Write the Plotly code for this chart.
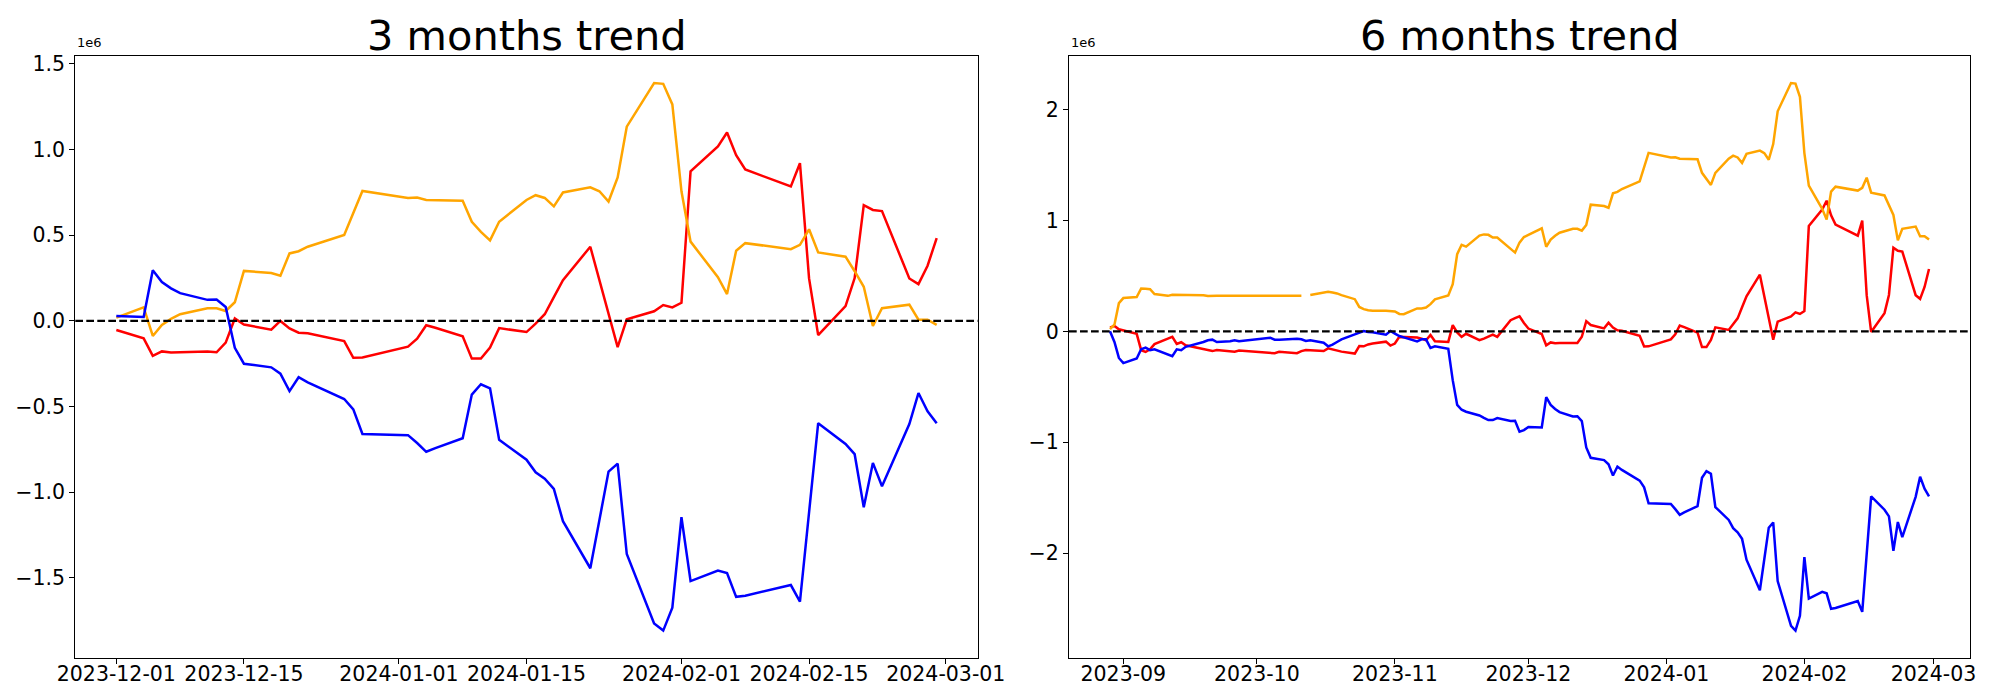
import plotly.graph_objects as go

# ---------------- data ----------------
# trading days (day-of-month) per month
aug_2023 = [29, 30, 31]
sep_2023 = [1, 4, 5, 6, 7, 8, 11, 12, 13, 14, 15, 18, 19, 20, 21, 22, 25, 26, 27]
oct_2023 = [4, 5, 6, 10, 11, 12, 13, 16, 17, 18, 19, 20, 23, 24, 25, 26, 27, 30, 31]
nov_2023 = [1, 2, 3, 6, 7, 8, 9, 10, 13, 14, 15, 16, 17, 20, 21, 22, 23, 24, 27, 28, 29, 30]
dec_2023 = [1, 4, 5, 6, 7, 8, 11, 12, 13, 14, 15, 18, 19, 20, 21, 22, 26, 27, 28]
jan_2024 = [2, 3, 4, 5, 8, 9, 10, 11, 12, 15, 16, 17, 18, 19, 22, 23, 24, 25, 26, 29, 30, 31]
feb_2024 = [1, 2, 5, 6, 7, 8, 13, 14, 15, 16, 19, 20, 21, 22, 23, 26, 27, 28, 29]


def days(ym, lst):
    return [f"{ym}-{d:02d}" for d in lst]


dates_3m = days("2023-12", dec_2023) + days("2024-01", jan_2024) + days("2024-02", feb_2024)
dates_6m = (days("2023-08", aug_2023) + days("2023-09", sep_2023) + days("2023-10", oct_2023)
            + days("2023-11", nov_2023) + dates_3m)

# values in units of 1e6
red_3m = [-0.053, -0.102, -0.204, -0.178, -0.185, -0.183, -0.178, -0.183, -0.127, 0.014,
          -0.021, -0.051, 0.000, -0.044, -0.069, -0.072, -0.118, -0.215, -0.213,
          -0.150, -0.104, -0.025, -0.040, -0.090, -0.220, -0.220, -0.155, -0.042, -0.065,
          -0.016, 0.039, 0.139, 0.238, 0.433, 0.240, 0.046, -0.153, 0.009, 0.056, 0.093, 0.079,
          0.106, 0.873, 1.019, 1.100, 0.968, 0.884, 0.785, 0.921, 0.248, -0.083,
          0.086, 0.250, 0.676, 0.648, 0.641, 0.248, 0.215, 0.322, 0.484]
orange_3m = [0.019, 0.079, -0.088, -0.023, 0.012, 0.039, 0.074, 0.074, 0.058, 0.109,
             0.292, 0.280, 0.264, 0.394, 0.407, 0.433, 0.502, 0.630, 0.759,
             0.718, 0.720, 0.706, 0.704, 0.701, 0.579, 0.520, 0.470, 0.579, 0.706,
             0.734, 0.718, 0.669, 0.750, 0.780, 0.757, 0.697, 0.838, 1.134, 1.389, 1.384, 1.264,
             0.757, 0.463, 0.255, 0.157, 0.410, 0.454, 0.419, 0.444, 0.535, 0.400,
             0.375, 0.290, 0.199, -0.030, 0.074, 0.095, 0.007, 0.007, -0.023]
blue_3m = [0.028, 0.023, 0.296, 0.227, 0.190, 0.162, 0.123, 0.125, 0.081, -0.157,
           -0.250, -0.271, -0.308, -0.410, -0.329, -0.359, -0.456, -0.516, -0.660,
           -0.667, -0.713, -0.764, -0.743, -0.685, -0.430, -0.370, -0.394, -0.694, -0.810,
           -0.884, -0.921, -0.981, -1.169, -1.444, -1.162, -0.880, -0.833, -1.361, -1.766, -1.808, -1.674,
           -1.146, -1.519, -1.458, -1.472, -1.611, -1.604, -1.542, -1.639, -1.120, -0.597,
           -0.718, -0.778, -1.088, -0.829, -0.965, -0.602, -0.421, -0.528, -0.597]

red_6m = [0.034, 0.049, 0.019,
          0.010, -0.023, -0.170, -0.186, -0.162, -0.115, -0.065, -0.050, -0.113, -0.098,
          -0.125, -0.150, -0.163, -0.170, -0.178, -0.168, -0.176, -0.184, -0.173,
          -0.198, -0.198, -0.185, -0.197, -0.178, -0.168, -0.170, -0.177, -0.153, -0.165,
          -0.177, -0.183, -0.200, -0.132, -0.135, -0.118, -0.110, -0.093, -0.128,
          -0.110, -0.050, -0.050, -0.055, -0.066, -0.080, -0.033, -0.090, -0.095, 0.056,
          -0.010, -0.050, -0.022, -0.080, -0.065, -0.050, -0.030, -0.050, 0.100, 0.120, 0.136, 0.075,
          0.025, -0.024, -0.126, -0.100, -0.107, -0.105, -0.100, -0.105, -0.049, 0.092,
          0.057, 0.027, 0.078, 0.034, 0.009, 0.006, -0.040, -0.137, -0.135,
          -0.072, -0.026, 0.053, 0.038, -0.012, -0.142, -0.142, -0.077, 0.036, 0.013,
          0.062, 0.117, 0.217, 0.316, 0.511, 0.318, 0.124, -0.075, 0.087, 0.134, 0.171, 0.157,
          0.184, 0.951, 1.097, 1.178, 1.046, 0.962, 0.863, 0.999, 0.326, -0.005,
          0.164, 0.328, 0.754, 0.726, 0.719, 0.326, 0.293, 0.400, 0.562]
orange_6m = [0.020, 0.060, 0.254,
             0.300, 0.310, 0.387, 0.385, 0.380, 0.336, 0.320, 0.330, 0.330, 0.328,
             0.326, 0.326, 0.326, 0.318, 0.320, 0.320, 0.321, 0.323, 0.320,
             0.322, 0.322, 0.322, 0.320, 0.320, None, 0.327, 0.350, 0.357, 0.350,
             0.342, 0.327, 0.290, 0.220, 0.200, 0.190, 0.185, 0.185, 0.185,
             0.180, 0.157, 0.155, 0.207, 0.207, 0.215, 0.245, 0.288, 0.323, 0.426,
             0.696, 0.780, 0.764, 0.863, 0.874, 0.870, 0.845, 0.845, 0.750, 0.710, 0.800, 0.850,
             0.869, 0.929, 0.762, 0.827, 0.862, 0.889, 0.924, 0.924, 0.908, 0.959,
             1.142, 1.130, 1.114, 1.244, 1.257, 1.283, 1.352, 1.480, 1.609,
             1.568, 1.570, 1.556, 1.554, 1.551, 1.429, 1.370, 1.320, 1.429, 1.556,
             1.584, 1.568, 1.519, 1.600, 1.630, 1.607, 1.547, 1.688, 1.984, 2.239, 2.234, 2.114,
             1.607, 1.313, 1.105, 1.007, 1.260, 1.304, 1.269, 1.294, 1.385, 1.250,
             1.225, 1.140, 1.049, 0.820, 0.924, 0.945, 0.857, 0.857, 0.827]
blue_6m = [0.000, -0.096, -0.240,
           -0.286, -0.245, -0.162, -0.147, -0.170, -0.162, -0.210, -0.224, -0.162, -0.170,
           -0.140, -0.110, -0.096, -0.080, -0.075, -0.096, -0.090, -0.080, -0.090,
           -0.057, -0.075, -0.075, -0.066, -0.072, -0.087, -0.081, -0.102, -0.135, -0.120,
           -0.096, -0.072, -0.027, -0.015, 0.003, -0.006, -0.009, -0.030, 0.003,
           -0.020, -0.042, -0.054, -0.090, -0.072, -0.072, -0.150, -0.135, -0.157, -0.440,
           -0.663, -0.707, -0.725, -0.758, -0.780, -0.800, -0.800, -0.782, -0.809, -0.806, -0.905, -0.890,
           -0.862, -0.867, -0.594, -0.663, -0.700, -0.728, -0.767, -0.765, -0.809, -1.047,
           -1.140, -1.161, -1.198, -1.300, -1.219, -1.249, -1.346, -1.406, -1.550,
           -1.557, -1.603, -1.654, -1.633, -1.575, -1.320, -1.260, -1.284, -1.584, -1.700,
           -1.774, -1.811, -1.871, -2.059, -2.334, -2.052, -1.770, -1.723, -2.251, -2.656, -2.698, -2.564,
           -2.036, -2.409, -2.348, -2.362, -2.501, -2.494, -2.432, -2.529, -2.010, -1.487,
           -1.608, -1.668, -1.978, -1.719, -1.855, -1.492, -1.311, -1.418, -1.487]

xtick_vals_3m = ["2023-12-01", "2023-12-15", "2024-01-01", "2024-01-15", "2024-02-01", "2024-02-15", "2024-03-01"]
xtick_text_3m = ["2023-12-01", "2023-12-15", "2024-01-01", "2024-01-15", "2024-02-01", "2024-02-15", "2024-03-01"]
xtick_vals_6m = ["2023-09-01", "2023-10-01", "2023-11-01", "2023-12-01", "2024-01-01", "2024-02-01", "2024-03-01"]
xtick_text_6m = ["2023-09", "2023-10", "2023-11", "2023-12", "2024-01", "2024-02", "2024-03"]
ytick_vals_3m = [-1.5, -1.0, -0.5, 0.0, 0.5, 1.0, 1.5]
ytick_text_3m = ["\u22121.5", "\u22121.0", "\u22120.5", "0.0", "0.5", "1.0", "1.5"]
ytick_vals_6m = [-2, -1, 0, 1, 2]
ytick_text_6m = ["\u22122", "\u22121", "0", "1", "2"]

titles = ["3 months trend", "6 months trend"]
series_colors = {"red": "#ff0000", "orange": "#ffa500", "blue": "#0000ff"}

# ---------------- figure ----------------
# the page body adds an 8px margin, so the figure is 16px smaller than the window
OFF = 8.0
W, H = 1984, 684
FONT = "DejaVu Sans"
fig = go.Figure()

LW = 2.5
for name, vals in [("red", red_3m), ("orange", orange_3m), ("blue", blue_3m)]:
    fig.add_trace(go.Scatter(x=dates_3m, y=vals, mode="lines", xaxis="x", yaxis="y",
                             line=dict(color=series_colors[name], width=LW), showlegend=False))
for name, vals in [("red", red_6m), ("orange", orange_6m), ("blue", blue_6m)]:
    fig.add_trace(go.Scatter(x=dates_6m, y=vals, mode="lines", xaxis="x2", yaxis="y2",
                             line=dict(color=series_colors[name], width=LW), showlegend=False,
                             connectgaps=False))


def px_x(v):
    return (v - OFF) / W


def px_y(v):
    return 1 - (v - OFF) / H


left_dom = [px_x(75.3), px_x(977.7)]
right_dom = [px_x(1069.0), px_x(1970.0)]
y_dom = [px_y(658.0), px_y(55.6)]

common_axis = dict(showline=True, linecolor="black", linewidth=1.1, mirror=True,
                   ticks="outside", ticklen=5, tickwidth=1.1, tickcolor="black",
                   showgrid=False, zeroline=False, automargin=False,
                   tickfont=dict(family=FONT, size=20.5, color="black"))

fig.update_layout(
    template="none",
    width=W, height=H,
    margin=dict(l=0, r=0, t=0, b=0, pad=0),
    paper_bgcolor="white", plot_bgcolor="white",
    xaxis=dict(domain=left_dom, anchor="y", type="date",
               range=["2023-11-26 12:00", "2024-03-04 12:00"],
               tickvals=xtick_vals_3m, ticktext=xtick_text_3m, ticklabelstandoff=-8,
               **common_axis),
    yaxis=dict(domain=y_dom, anchor="x", range=[-1.968, 1.549],
               tickvals=ytick_vals_3m, ticktext=ytick_text_3m, **common_axis),
    xaxis2=dict(domain=right_dom, anchor="y2", type="date",
                range=["2023-08-19 19:00", "2024-03-09 05:00"],
                tickvals=xtick_vals_6m, ticktext=xtick_text_6m, ticklabelstandoff=-8,
                **common_axis),
    yaxis2=dict(domain=y_dom, anchor="x2", range=[-2.945, 2.486],
                tickvals=ytick_vals_6m, ticktext=ytick_text_6m, **common_axis),
)

# dashed zero lines
for xr, yr in [("x domain", "y"), ("x2 domain", "y2")]:
    fig.add_shape(type="line", xref=xr, yref=yr, x0=0, x1=1, y0=0, y1=0,
                  line=dict(color="black", width=2.1, dash="7.7px,3.3px"), layer="above")

# titles
for dom, t in [(left_dom, titles[0]), (right_dom, titles[1])]:
    fig.add_annotation(text=t, xref="paper", yref="paper",
                       x=(dom[0] + dom[1]) / 2, y=px_y(8.5),
                       xanchor="center", yanchor="top", showarrow=False,
                       font=dict(family=FONT, size=41.5, color="black"))
    # offset text
    fig.add_annotation(text="1e6", xref="paper", yref="paper",
                       x=dom[0], y=px_y(52.0), xanchor="left", yanchor="bottom",
                       showarrow=False, font=dict(family=FONT, size=13, color="black"))

fig.write_html("out.html")
